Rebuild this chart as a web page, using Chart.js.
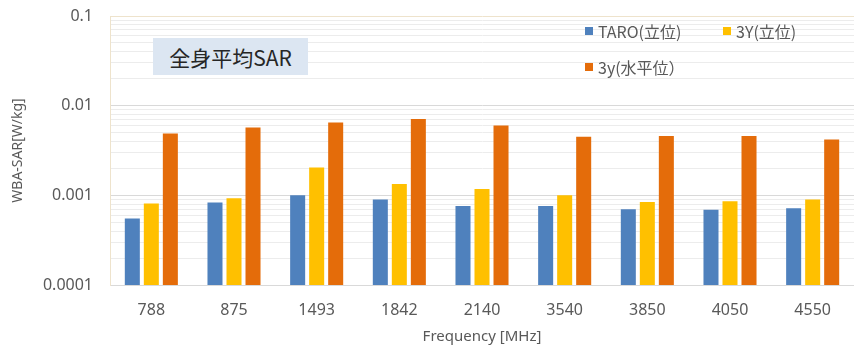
<!DOCTYPE html>
<html>
<head>
<meta charset="utf-8">
<script src="https://cdn.jsdelivr.net/npm/chart.js@4"></script>
<style>
    body { margin: 0; background: #fff; }
    #wrap { position: relative; width: 854px; height: 347px; }
    #title-box {
        position: absolute; left: 153px; top: 38px; width: 155px; height: 37px;
        background: #dce6f2; font: 21px "Noto Sans CJK JP", sans-serif; color: #262626;
        display: flex; align-items: center; justify-content: center;
    }
    .leg { position: absolute; font: 16px "Noto Sans CJK JP", sans-serif; color: #595959; display: flex; align-items: center; }
    .leg i { display: inline-block; width: 8px; height: 8px; margin-right: 5px; }
</style>
</head>
<body>
<div id="wrap">
    <canvas id="sarChart"></canvas>
    <div id="title-box">全身平均SAR</div>
    <div id="legend"></div>
</div>
<script>
// chart data
const frequencies = ["788", "875", "1493", "1842", "2140", "3540", "3850", "4050", "4550"];
const seriesNames = ["TARO(立位)", "3Y(立位)", "3y(水平位）"];
const taroStanding = [0.00055, 0.00083, 0.00100, 0.00090, 0.00076, 0.00076, 0.00070, 0.00069, 0.00072];
const threeYStanding = [0.00081, 0.00093, 0.00205, 0.00134, 0.00118, 0.00100, 0.00084, 0.00086, 0.00090];
const threeYHorizontal = [0.0049, 0.0057, 0.0065, 0.0071, 0.0060, 0.0045, 0.0046, 0.0046, 0.0042];
const yTickValues = [0.0001, 0.001, 0.01, 0.1];

const colors = ["#4f81bd", "#ffc000", "#e46c0a"];

// minor ticks 2..9 per decade, labels only on decades
const allTicks = [];
for (let d = 0; d < yTickValues.length - 1; d++) {
    for (let m = 1; m < 10; m++) allTicks.push(+(yTickValues[d] * m).toPrecision(3));
}
allTicks.push(yTickValues[yTickValues.length - 1]);

const isDecade = (v) => yTickValues.some(t => Math.abs(t - v) / t < 1e-6);

// html legend inside the plot area
const legendPos = [[585, 19], [723, 19], [585, 55]];
const legendBox = document.getElementById("legend");
seriesNames.forEach((name, i) => {
    const el = document.createElement("div");
    el.className = "leg";
    el.style.left = legendPos[i][0] + "px";
    el.style.top = legendPos[i][1] + "px";
    el.innerHTML = '<i style="background:' + colors[i] + '"></i>' + name;
    legendBox.appendChild(el);
});

const ctx = document.getElementById("sarChart");
new Chart(ctx, {
    type: "bar",
    data: {
        labels: frequencies,
        datasets: [
            { label: seriesNames[0], data: taroStanding, backgroundColor: colors[0] },
            { label: seriesNames[1], data: threeYStanding, backgroundColor: colors[1] },
            { label: seriesNames[2], data: threeYHorizontal, backgroundColor: colors[2] }
        ]
    },
    options: {
        responsive: true,
        maintainAspectRatio: false,
        animation: false,
        layout: { padding: { left: 0, right: 0, top: 16, bottom: 0 } },
        datasets: { bar: { categoryPercentage: 0.69, barPercentage: 0.79 } },
        plugins: {
            legend: { display: false },
            tooltip: { enabled: false }
        },
        scales: {
            x: {
                // fixed height so the plot bottom sits where the reference has it
                afterFit: (scale) => {
                    scale.height = 62;
                    scale.paddingLeft = 0;
                    scale.paddingRight = 0;
                },
                grid: { display: false },
                border: { color: "#d9d9d9", width: 1 },
                ticks: { color: "#595959", font: { family: "Noto Sans", size: 16 }, padding: 8 },
                title: {
                    display: true, text: "Frequency [MHz]", color: "#595959",
                    font: { family: "Noto Sans", size: 15 }, padding: { top: 0, bottom: 1 }
                }
            },
            y: {
                type: "logarithmic",
                min: 0.0001,
                max: 0.1,
                afterBuildTicks: (scale) => {
                    scale.ticks = allTicks.map(v => ({ value: v }));
                },
                afterFit: (scale) => {
                    scale.width = 110;
                    scale.paddingTop = 0;
                    scale.paddingBottom = 0;
                },
                grid: {
                    color: (c) => {
                        const v = c.tick ? c.tick.value : 0;
                        if (v >= 0.1) return "#eee3cc";
                        return isDecade(v) ? "#d9d9d9" : "#ececec";
                    },
                    drawTicks: false
                },
                border: { color: "#eee3cc", width: 1 },
                ticks: {
                    autoSkip: false,
                    color: "#595959",
                    font: { family: "Noto Sans", size: 16 },
                    padding: 17,
                    callback: (v) => isDecade(v) ? String(+v.toPrecision(1)) : ""
                },
                title: {
                    display: true, text: "WBA-SAR[W/kg]", color: "#595959",
                    font: { family: "Noto Sans", size: 14 }, padding: { top: 10, bottom: 0 }
                }
            }
        }
    }
});
</script>
</body>
</html>
